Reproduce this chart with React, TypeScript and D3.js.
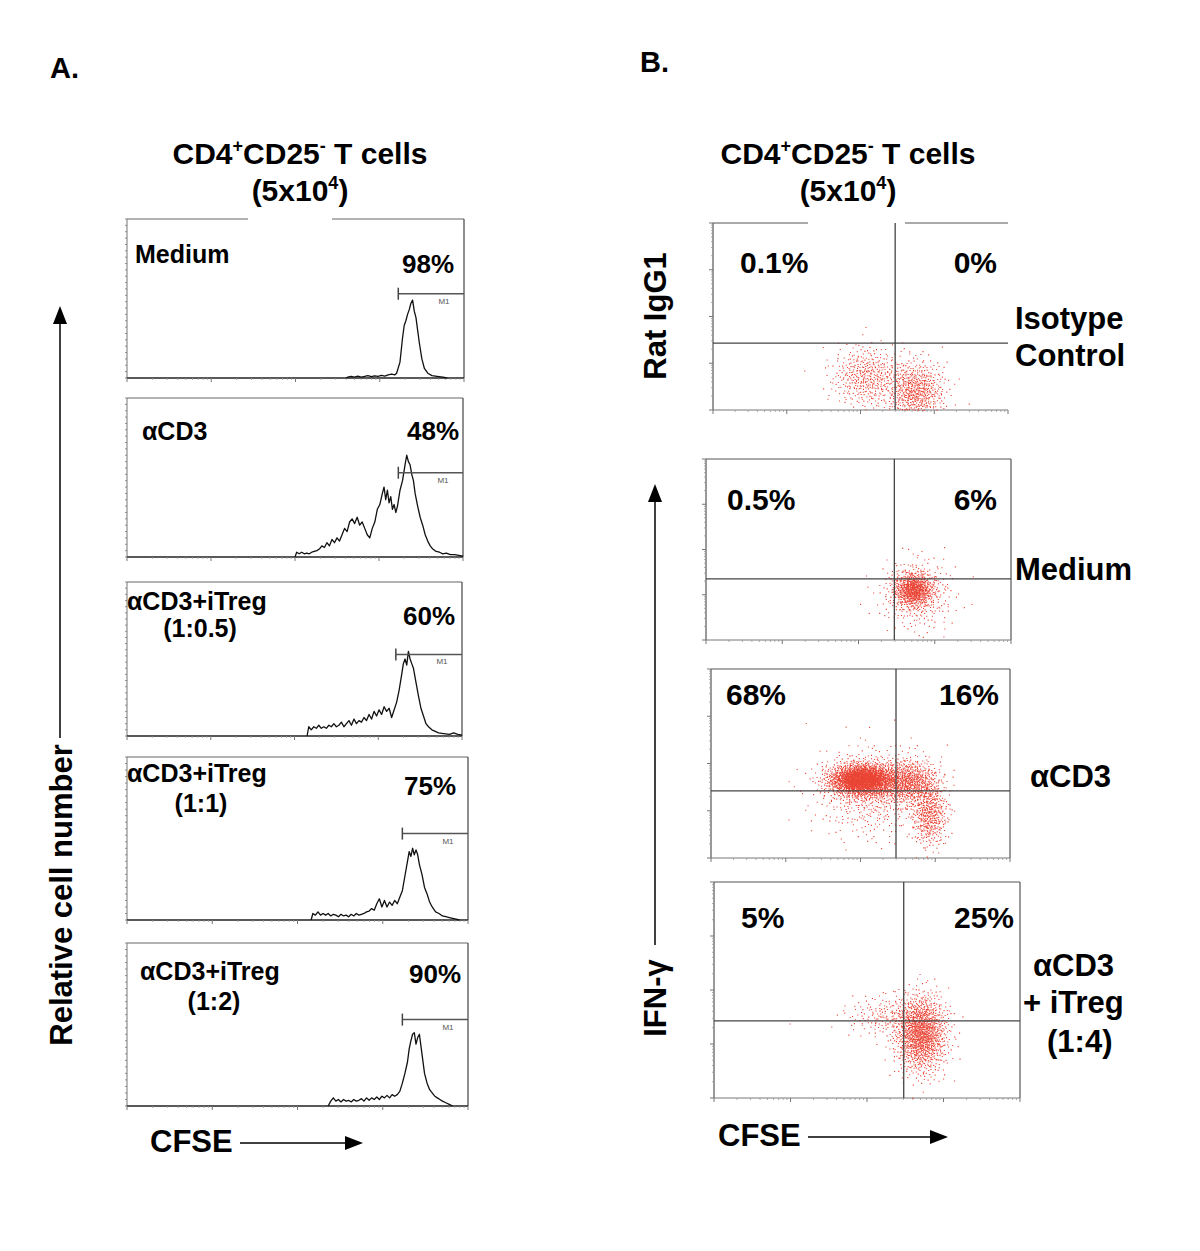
import React from 'react';
import * as d3 from 'd3';

// ---------------- DATA ----------------
// Panel A: CFSE histograms, [log10(CFSE), relative count (% of panel height)]
const histLabels = ['Medium', 'αCD3', 'αCD3+iTreg', 'αCD3+iTreg', 'αCD3+iTreg'];
const histSubLabels = ['', '', '(1:0.5)', '(1:1)', '(1:2)'];
const histPercents = ['98%', '48%', '60%', '75%', '90%'];
const markerStarts = [3.22, 3.23, 3.21, 3.23, 3.23];

const histMedium: [number, number][] = [
  [2.6, 0], [2.62, 0.5], [2.66, 1], [2.7, 0.5], [2.74, 1.2], [2.78, 0.6], [2.82, 1], [2.86, 1.5], [2.9, 0.8],
  [2.94, 1.4], [2.98, 1], [3.02, 1.6], [3.06, 1.2], [3.1, 2], [3.14, 2.5], [3.18, 2], [3.2, 3], [3.24, 10],
  [3.27, 25], [3.29, 33], [3.31, 36], [3.33, 40], [3.35, 43], [3.37, 47], [3.39, 49], [3.41, 42], [3.43, 38],
  [3.45, 30], [3.47, 22], [3.5, 12], [3.53, 6], [3.57, 3], [3.62, 1.5], [3.68, 1], [3.75, 0.5], [3.8, 0],
];
const histCD3: [number, number][] = [
  [2.0, 0], [2.02, 3], [2.05, 2], [2.08, 3], [2.11, 2], [2.14, 2.5], [2.17, 2], [2.2, 3], [2.23, 3.5], [2.26, 4],
  [2.29, 5], [2.32, 7], [2.35, 6], [2.38, 9], [2.41, 7], [2.44, 11], [2.47, 9], [2.5, 12], [2.53, 10], [2.56, 14],
  [2.59, 18], [2.62, 16], [2.65, 22], [2.68, 24], [2.71, 21], [2.74, 25], [2.77, 20], [2.8, 22], [2.83, 18],
  [2.86, 14], [2.89, 12], [2.92, 18], [2.95, 22], [2.98, 30], [3.01, 33], [3.04, 40], [3.06, 44], [3.08, 36],
  [3.1, 42], [3.12, 34], [3.14, 38], [3.16, 30], [3.18, 33], [3.2, 28], [3.22, 32], [3.25, 42], [3.28, 48],
  [3.31, 58], [3.33, 64], [3.35, 60], [3.37, 58], [3.39, 52], [3.41, 48], [3.43, 40], [3.46, 32], [3.49, 25],
  [3.52, 20], [3.55, 14], [3.58, 10], [3.61, 7], [3.64, 5], [3.68, 3.5], [3.72, 3], [3.76, 2], [3.8, 2.5],
  [3.85, 1.5], [3.9, 1.5], [3.95, 1], [4.0, 0.5],
];
const histTreg05: [number, number][] = [
  [2.15, 0], [2.17, 6], [2.2, 4], [2.23, 6], [2.26, 5], [2.29, 7], [2.32, 5], [2.35, 6], [2.38, 5], [2.41, 7],
  [2.44, 6], [2.47, 8], [2.5, 6], [2.53, 7], [2.56, 9], [2.59, 6], [2.62, 8], [2.65, 10], [2.68, 7], [2.71, 11],
  [2.74, 8], [2.77, 10], [2.8, 9], [2.83, 12], [2.86, 10], [2.89, 14], [2.92, 11], [2.95, 16], [2.98, 13],
  [3.01, 17], [3.04, 14], [3.07, 19], [3.1, 16], [3.13, 18], [3.16, 12], [3.19, 17], [3.22, 22], [3.25, 30],
  [3.28, 40], [3.3, 47], [3.32, 50], [3.34, 46], [3.36, 55], [3.38, 50], [3.4, 47], [3.42, 44], [3.45, 35],
  [3.48, 26], [3.51, 18], [3.54, 13], [3.57, 8], [3.6, 6], [3.64, 4], [3.68, 3], [3.72, 2], [3.78, 1.5],
  [3.85, 1], [3.9, 2], [3.95, 1], [4.0, 0.5],
];
const histTreg1: [number, number][] = [
  [2.16, 0], [2.18, 4], [2.21, 3], [2.24, 5], [2.27, 3], [2.3, 4], [2.33, 3], [2.36, 4], [2.39, 2.5], [2.42, 3.5],
  [2.45, 3], [2.48, 2], [2.51, 3.5], [2.54, 2.5], [2.57, 3], [2.6, 2], [2.63, 3.5], [2.66, 2.5], [2.69, 4],
  [2.72, 3], [2.75, 3.5], [2.78, 4], [2.81, 5], [2.84, 5.5], [2.87, 7], [2.9, 6], [2.93, 10], [2.96, 13],
  [2.99, 8], [3.02, 12], [3.05, 8], [3.08, 11], [3.11, 9], [3.14, 12], [3.17, 10], [3.2, 14], [3.23, 18],
  [3.26, 27], [3.29, 36], [3.31, 42], [3.33, 39], [3.35, 44], [3.37, 40], [3.39, 43], [3.41, 40], [3.43, 34],
  [3.46, 28], [3.49, 20], [3.52, 16], [3.55, 11], [3.58, 8], [3.62, 5], [3.66, 4], [3.7, 2.5], [3.74, 2],
  [3.78, 1.5], [3.82, 1], [3.86, 0.5], [3.9, 0],
];
const histTreg2: [number, number][] = [
  [2.36, 0], [2.39, 3], [2.42, 5], [2.45, 3], [2.48, 4], [2.51, 2.5], [2.54, 4], [2.57, 3], [2.6, 3.5],
  [2.63, 2.5], [2.66, 4], [2.69, 3], [2.72, 3.5], [2.75, 4.5], [2.78, 3], [2.81, 5], [2.84, 3.5], [2.87, 5],
  [2.9, 4], [2.93, 5.5], [2.96, 4], [2.99, 6], [3.02, 5], [3.05, 6.5], [3.08, 5], [3.11, 7], [3.14, 6],
  [3.17, 7], [3.2, 9], [3.23, 14], [3.26, 20], [3.29, 27], [3.31, 35], [3.33, 40], [3.35, 44], [3.37, 45],
  [3.39, 38], [3.41, 42], [3.43, 44], [3.45, 36], [3.47, 28], [3.49, 20], [3.52, 14], [3.55, 10], [3.58, 8],
  [3.61, 6], [3.64, 5], [3.67, 4], [3.7, 3], [3.74, 2], [3.78, 1], [3.82, 0],
];
const histSeries = [histMedium, histCD3, histTreg05, histTreg1, histTreg2];

// Panel B: dot plots (log10 CFSE, log10 IFN-γ). Clusters: [centerX, centerY, sdX, sdY, count]
const dotConditions = ['Isotype Control', 'Medium', 'αCD3', 'αCD3 + iTreg (1:4)'];
const dotPercents: [string, string][] = [['0.1%', '0%'], ['0.5%', '6%'], ['68%', '16%'], ['5%', '25%']];
const gateX = [2.47, 2.47, 2.475, 2.48];
const gateY = [1.43, 1.35, 1.42, 1.43];
const clustersIsotype = [
  [2.08, 0.72, 0.24, 0.33, 420],
  [2.74, 0.4, 0.2, 0.33, 600],
];
const clustersMedium = [
  [2.72, 1.12, 0.13, 0.19, 650],
  [2.76, 1.02, 0.24, 0.4, 330],
];
const clustersCD3 = [
  [2.02, 1.66, 0.22, 0.17, 2000],
  [2.64, 1.62, 0.2, 0.24, 650],
  [2.92, 0.95, 0.12, 0.36, 450],
  [2.15, 1.4, 0.38, 0.48, 550],
];
const clustersTreg = [
  [2.7, 1.2, 0.17, 0.36, 1250],
  [2.25, 1.52, 0.28, 0.2, 180],
];
const dotClusters = [clustersIsotype, clustersMedium, clustersCD3, clustersTreg];

// ---------------- LAYOUT / STYLE ----------------
const FONT = "'Liberation Sans', Arial, Helvetica, sans-serif";
const DOT_COLOR = '#e8301f';

const histLayout = [
  { x0: 127, x1: 464, y0: 219, y1: 378, gap: [248, 332] },
  { x0: 127, x1: 463, y0: 398, y1: 557 },
  { x0: 127, x1: 462, y0: 582, y1: 736 },
  { x0: 127, x1: 468, y0: 757, y1: 920 },
  { x0: 127, x1: 468, y0: 943, y1: 1106 },
];
const histText = [
  { label: [135, 263], sub: [0, 0], pct: [428, 273] },
  { label: [142, 440], sub: [0, 0], pct: [433, 440] },
  { label: [127, 610], sub: [200, 637], pct: [429, 625] },
  { label: [127, 782], sub: [201, 812], pct: [430, 795] },
  { label: [140, 980], sub: [214, 1010], pct: [435, 983] },
];

const dotLayout = [
  { x0: 713, x1: 1008, y0: 223, y1: 410, gap: [808, 905] },
  { x0: 706, x1: 1011, y0: 459, y1: 640 },
  { x0: 711, x1: 1010, y0: 669, y1: 858 },
  { x0: 714, x1: 1020, y0: 882, y1: 1098 },
];
const dotText = [
  { l: [740, 273], r: [997, 273] },
  { l: [727, 510], r: [997, 510] },
  { l: [726, 705], r: [999, 705] },
  { l: [741, 928], r: [1014, 928] },
];
const rightLabels: [string, number, number][] = [
  ['Isotype', 1015, 329],
  ['Control', 1015, 366],
  ['Medium', 1015, 580],
  ['αCD3', 1030, 787],
  ['αCD3', 1033, 976],
  ['+ iTreg', 1023, 1013],
  ['(1:4)', 1047, 1052],
];

function halton(i: number, b: number) {
  let f = 1, r = 0;
  while (i > 0) { f /= b; r += f * (i % b); i = Math.floor(i / b); }
  return r;
}

function logTicks() {
  const major: number[] = [];
  const minor: number[] = [];
  for (let d = 0; d <= 4; d++) {
    major.push(d);
    if (d < 4) for (let k = 2; k <= 9; k++) minor.push(d + Math.log10(k));
  }
  return { major, minor };
}

function Histogram({ i }: { i: number }) {
  const L = histLayout[i];
  const T = histText[i];
  const x = d3.scaleLinear().domain([0, 4]).range([L.x0, L.x1]);
  const y = d3.scaleLinear().domain([0, 100]).range([L.y1, L.y0]);
  const line = d3.line<[number, number]>().x(d => x(d[0])).y(d => y(d[1]));
  const { major, minor } = logTicks();
  const yTicks = d3.range(0, 101, 4);
  const mY = y(53);
  const mStart = x(markerStarts[i]);
  return (
    <g>
      {L.gap ? (
        <>
          <line x1={L.x0} x2={L.gap[0]} y1={L.y0} y2={L.y0} stroke="#666" strokeWidth={1.2} />
          <line x1={L.gap[1]} x2={L.x1} y1={L.y0} y2={L.y0} stroke="#666" strokeWidth={1.2} />
        </>
      ) : (
        <line x1={L.x0} x2={L.x1} y1={L.y0} y2={L.y0} stroke="#666" strokeWidth={1.2} />
      )}
      <line x1={L.x1} x2={L.x1} y1={L.y0} y2={L.y1} stroke="#444" strokeWidth={1.2} />
      <line x1={L.x0} x2={L.x0} y1={L.y0} y2={L.y1} stroke="#777" strokeWidth={1} />
      <line x1={L.x0} x2={L.x1} y1={L.y1} y2={L.y1} stroke="#222" strokeWidth={1.3} />
      {yTicks.map(t => (
        <line key={'y' + t} x1={L.x0 - 2} x2={L.x0} y1={y(t)} y2={y(t)} stroke="#777" strokeWidth={0.8} />
      ))}
      {major.map(t => (
        <line key={'M' + t} x1={x(t)} x2={x(t)} y1={L.y1} y2={L.y1 + 4} stroke="#777" strokeWidth={1} />
      ))}
      {minor.map(t => (
        <line key={'m' + t} x1={x(t)} x2={x(t)} y1={L.y1} y2={L.y1 + 2} stroke="#999" strokeWidth={0.8} />
      ))}
      <path d={line(histSeries[i]) || ''} fill="none" stroke="#111" strokeWidth={1.3} strokeLinejoin="round" />
      <line x1={mStart} x2={L.x1} y1={mY} y2={mY} stroke="#555" strokeWidth={1.5} />
      <line x1={mStart} x2={mStart} y1={mY - 6} y2={mY + 6} stroke="#444" strokeWidth={1.5} />
      <text x={L.x1 - 20} y={mY + 10} fontSize={8} fill="#555" fontFamily={FONT} textAnchor="middle">M1</text>
      <text x={T.label[0]} y={T.label[1]} fontSize={25} fontWeight="bold" fontFamily={FONT} fill="#000">{histLabels[i]}</text>
      {histSubLabels[i] && (
        <text x={T.sub[0]} y={T.sub[1]} fontSize={25} fontWeight="bold" fontFamily={FONT} fill="#000" textAnchor="middle">{histSubLabels[i]}</text>
      )}
      <text x={T.pct[0]} y={T.pct[1]} fontSize={26} fontWeight="bold" fontFamily={FONT} fill="#000" textAnchor="middle">{histPercents[i]}</text>
    </g>
  );
}

function DotPlot({ i }: { i: number }) {
  const L = dotLayout[i];
  const T = dotText[i];
  const x = d3.scaleLinear().domain([0, 4]).range([L.x0, L.x1]);
  const y = d3.scaleLinear().domain([0, 4]).range([L.y1, L.y0]);
  const { major, minor } = logTicks();
  let d = '';
  let offset = 1 + i * 5000;
  dotClusters[i].forEach(([cx, cy, sx, sy, n]) => {
    for (let k = 0; k < n; k++) {
      const idx = offset + k;
      const u1 = Math.max(1e-6, halton(idx, 2));
      const u2 = halton(idx, 3);
      const r = Math.sqrt(-2 * Math.log(u1));
      const vx = cx + sx * r * Math.cos(2 * Math.PI * u2);
      const vy = cy + sy * r * Math.sin(2 * Math.PI * u2);
      if (vx < 0 || vx > 4 || vy < 0 || vy > 4) continue;
      const px = x(vx), py = y(vy);
      d += `M${px.toFixed(1)},${py.toFixed(1)}h1.1v1.1h-1.1z`;
    }
    offset += n + 37;
  });
  const gx = x(gateX[i]);
  const gy = y(gateY[i]);
  return (
    <g>
      {L.gap ? (
        <>
          <line x1={L.x0} x2={L.gap[0]} y1={L.y0} y2={L.y0} stroke="#555" strokeWidth={1.2} />
          <line x1={L.gap[1]} x2={L.x1} y1={L.y0} y2={L.y0} stroke="#555" strokeWidth={1.2} />
        </>
      ) : (
        <line x1={L.x0} x2={L.x1} y1={L.y0} y2={L.y0} stroke="#555" strokeWidth={1.2} />
      )}
      {!L.gap && <line x1={L.x1} x2={L.x1} y1={L.y0} y2={L.y1} stroke="#555" strokeWidth={1.2} />}
      <line x1={L.x0} x2={L.x0} y1={L.y0} y2={L.y1} stroke="#555" strokeWidth={1.2} />
      <line x1={L.x0} x2={L.x1} y1={L.y1} y2={L.y1} stroke="#777" strokeWidth={1} />
      {major.map(t => (
        <g key={'M' + t}>
          <line x1={x(t)} x2={x(t)} y1={L.y1} y2={L.y1 + 4} stroke="#777" strokeWidth={1} />
          <line x1={L.x0 - 4} x2={L.x0} y1={y(t)} y2={y(t)} stroke="#777" strokeWidth={1} />
        </g>
      ))}
      {minor.map(t => (
        <g key={'m' + t}>
          <line x1={x(t)} x2={x(t)} y1={L.y1} y2={L.y1 + 2} stroke="#999" strokeWidth={0.8} />
          <line x1={L.x0 - 2} x2={L.x0} y1={y(t)} y2={y(t)} stroke="#999" strokeWidth={0.8} />
        </g>
      ))}
      <path d={d} fill={DOT_COLOR} fillOpacity={0.9} />
      <line x1={gx} x2={gx} y1={L.y0} y2={L.y1} stroke="#444" strokeWidth={1.3} />
      <line x1={L.x0} x2={L.x1} y1={gy} y2={gy} stroke="#444" strokeWidth={1.3} />
      <text x={T.l[0]} y={T.l[1]} fontSize={30} fontWeight="bold" fontFamily={FONT} fill="#000">{dotPercents[i][0]}</text>
      <text x={T.r[0]} y={T.r[1]} fontSize={30} fontWeight="bold" fontFamily={FONT} fill="#000" textAnchor="end">{dotPercents[i][1]}</text>
    </g>
  );
}

function Title({ cx }: { cx: number }) {
  return (
    <g fontFamily={FONT} fontWeight="bold" fill="#000">
      <text x={cx} y={164} fontSize={30} textAnchor="middle">
        CD4<tspan fontSize={18} dy={-12}>+</tspan><tspan dy={12}>CD25</tspan><tspan fontSize={18} dy={-12}>-</tspan><tspan dy={12}> T cells</tspan>
      </text>
      <text x={cx} y={201} fontSize={30} textAnchor="middle">
        (5x10<tspan fontSize={18} dy={-12}>4</tspan><tspan dy={12}>)</tspan>
      </text>
    </g>
  );
}

export default function App() {
  return (
    <svg width={1200} height={1251} style={{ position: 'absolute', left: 0, top: 0, background: '#fff' }}>
      <rect x={0} y={0} width={1200} height={1251} fill="#fff" />
      <g fontFamily={FONT} fontWeight="bold" fill="#000">
        <text x={50} y={78} fontSize={29}>A.</text>
        <text x={640} y={72} fontSize={29}>B.</text>
      </g>
      <Title cx={300} />
      <Title cx={848} />

      {histLayout.map((_, i) => <Histogram key={i} i={i} />)}
      {dotLayout.map((_, i) => <DotPlot key={i} i={i} />)}

      <text transform="translate(72,895) rotate(-90)" fontSize={31} fontWeight="bold" fontFamily={FONT} textAnchor="middle">Relative cell number</text>
      <line x1={60} x2={60} y1={738} y2={322} stroke="#000" strokeWidth={1.5} />
      <path d="M60,306 L53,324 L67,324 Z" fill="#000" />
      <text x={150} y={1152} fontSize={31} fontWeight="bold" fontFamily={FONT}>CFSE</text>
      <line x1={240} x2={348} y1={1143} y2={1143} stroke="#000" strokeWidth={1.5} />
      <path d="M363,1143 L345,1136 L345,1150 Z" fill="#000" />

      <text transform="translate(666,316) rotate(-90)" fontSize={31} fontWeight="bold" fontFamily={FONT} textAnchor="middle">Rat IgG1</text>
      <text transform="translate(666,998) rotate(-90)" fontSize={31} fontWeight="bold" fontFamily={FONT} textAnchor="middle">IFN-γ</text>
      <line x1={655} x2={655} y1={945} y2={500} stroke="#000" strokeWidth={1.5} />
      <path d="M655,484 L648,502 L662,502 Z" fill="#000" />
      <text x={718} y={1146} fontSize={31} fontWeight="bold" fontFamily={FONT}>CFSE</text>
      <line x1={808} x2={933} y1={1137} y2={1137} stroke="#000" strokeWidth={1.5} />
      <path d="M948,1137 L930,1130 L930,1144 Z" fill="#000" />

      {rightLabels.map(([t, x, y], k) => (
        <text key={k} x={x} y={y} fontSize={31} fontWeight="bold" fontFamily={FONT}>{t}</text>
      ))}
    </svg>
  );
}
